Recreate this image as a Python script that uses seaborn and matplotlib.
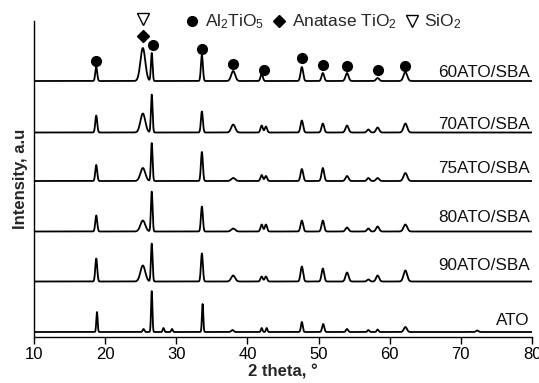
import numpy as np
import pandas as pd
import matplotlib
matplotlib.use("Agg")
import matplotlib.pyplot as plt
from matplotlib.lines import Line2D
import seaborn as sns

# ---------------- data ----------------
samples = ["ATO", "90ATO/SBA", "80ATO/SBA", "75ATO/SBA", "70ATO/SBA", "60ATO/SBA"]
offsets = [5, 55.5, 105.5, 156, 204.5, 256]          # vertical stacking offset (a.u.)
label_y = [12, 67, 115, 164, 208, 260]

# ATO (pure Al2TiO5 sample) peaks
ato_pos = [18.85, 25.4, 26.55, 28.2, 29.4, 33.7, 37.9, 42.0, 42.7, 47.65, 50.65, 54.0, 57.0, 58.3, 62.2, 72.3]
ato_h   = [20, 3, 41, 4, 3, 28, 2, 4, 4, 10, 8, 3, 2, 2.5, 5, 1.5]
ato_w   = [0.22, 0.3, 0.22, 0.25, 0.25, 0.22, 0.4, 0.25, 0.25, 0.3, 0.35, 0.35, 0.3, 0.3, 0.5, 0.4]

# ATO/SBA composite peaks
sba_pos = [18.75, 25.3, 26.55, 33.6, 38.0, 42.0, 42.6, 47.65, 50.6, 54.0, 57.0, 58.3, 62.2]
sba_w   = [0.32, 0.8, 0.27, 0.32, 0.65, 0.38, 0.38, 0.42, 0.42, 0.5, 0.45, 0.5, 0.6]
h90 = [23, 16, 38, 28, 6, 5, 5, 15, 13, 9, 2, 6, 11]
h80 = [16, 11, 40, 25, 3, 7, 7, 11, 11, 4, 3, 5, 7]
h75 = [16, 13, 38, 29, 3, 6, 5, 12, 13, 5, 3, 3, 8]
h70 = [17, 19, 38, 21, 8, 7, 6, 12, 9, 7, 3, 5, 9]
h60 = [14, 33, 28, 26, 10, 7, 0, 14, 8, 8, 0, 3, 9]

# phase markers above the 60ATO/SBA pattern
al2tio5_x = [18.76, 26.7, 33.6, 38.0, 42.3, 47.7, 50.6, 54.0, 58.3, 62.2]
al2tio5_y = [275.8, 292.3, 287.8, 273.4, 267.2, 279.2, 271.7, 270.7, 267.2, 270.7]
anatase_x = [25.3]
anatase_y = [300.9]
sio2_x = [25.3]
sio2_y = [318]

x_ticks = [10, 20, 30, 40, 50, 60, 70, 80]

# ---------------- build patterns ----------------
two_theta = np.linspace(10, 80, 3501)


def pattern(pos, h, w, base):
    y = np.full_like(two_theta, base, dtype=float)
    for p, a, fw in zip(pos, h, w):
        s = fw / 2.3548
        y += a * np.exp(-0.5 * ((two_theta - p) / s) ** 2)
    return y


series = [
    pattern(ato_pos, ato_h, ato_w, offsets[0]),
    pattern(sba_pos, h90, sba_w, offsets[1]),
    pattern(sba_pos, h80, sba_w, offsets[2]),
    pattern(sba_pos, h75, sba_w, offsets[3]),
    pattern(sba_pos, h70, sba_w, offsets[4]),
    pattern(sba_pos, h60, sba_w, offsets[5]),
]
df = pd.concat(
    [pd.DataFrame({"two_theta": two_theta, "intensity": y, "sample": s})
     for s, y in zip(samples, series)],
    ignore_index=True,
)

# ---------------- plotting ----------------
sns.set_theme(style="ticks")
plt.rcParams["font.family"] = ["Liberation Sans", "DejaVu Sans"]
plt.rcParams["mathtext.fontset"] = "custom"
plt.rcParams["mathtext.rm"] = "Liberation Sans"
plt.rcParams["mathtext.it"] = "Liberation Sans:italic"
plt.rcParams["mathtext.bf"] = "Liberation Sans:bold"

fig = plt.figure(figsize=(5.39, 3.83), dpi=100)
ax = fig.add_axes([34 / 539, 1 - 337 / 383, (532 - 34) / 539, (337 - 20.5) / 383])

sns.lineplot(data=df, x="two_theta", y="intensity", units="sample", estimator=None,
             color="black", linewidth=1.3, ax=ax, legend=False)

for s, ly in zip(samples, label_y):
    ax.text(79.7, ly, s, ha="right", va="baseline", fontsize=12.3, color="#111111")

ax.plot(al2tio5_x, al2tio5_y, ls="none", marker="o", ms=7, color="black")
ax.plot(anatase_x, anatase_y, ls="none", marker="D", ms=6.2, color="black")
ax.plot(sio2_x, sio2_y, ls="none", marker="v", ms=9, mfc="white", mec="black",
        mew=1.0, clip_on=False)

handles = [
    Line2D([], [], ls="none", marker="o", ms=7, color="black"),
    Line2D([], [], ls="none", marker="D", ms=6.2, color="black"),
    Line2D([], [], ls="none", marker="v", ms=9, mfc="white", mec="black", mew=1.0),
]
labels = ["Al$_2$TiO$_5$", "Anatase TiO$_2$", "SiO$_2$"]
fig.legend(handles, labels, loc="center", bbox_to_anchor=(0.601, 0.9426),
           ncol=3, frameon=False, fontsize=12.5, handlelength=0.7,
           handletextpad=0.35, columnspacing=0.55, borderpad=0.0)

ax.set_xlim(10, 80)
ax.set_ylim(0, 316.5)
ax.set_xticks(x_ticks)
ax.set_yticks([])
ax.tick_params(axis="x", direction="out", length=5, width=1, labelsize=12,
               colors="black", pad=2)
for side in ("top", "right"):
    ax.spines[side].set_visible(False)
for side in ("left", "bottom"):
    ax.spines[side].set_color("black")
    ax.spines[side].set_linewidth(1.0)

ax.set_xlabel("2 theta, °", fontsize=12, fontweight="bold", labelpad=2)
ax.set_ylabel("Intensity, a.u", fontsize=12, fontweight="bold", labelpad=4)

fig.savefig("out.png", dpi=100)
